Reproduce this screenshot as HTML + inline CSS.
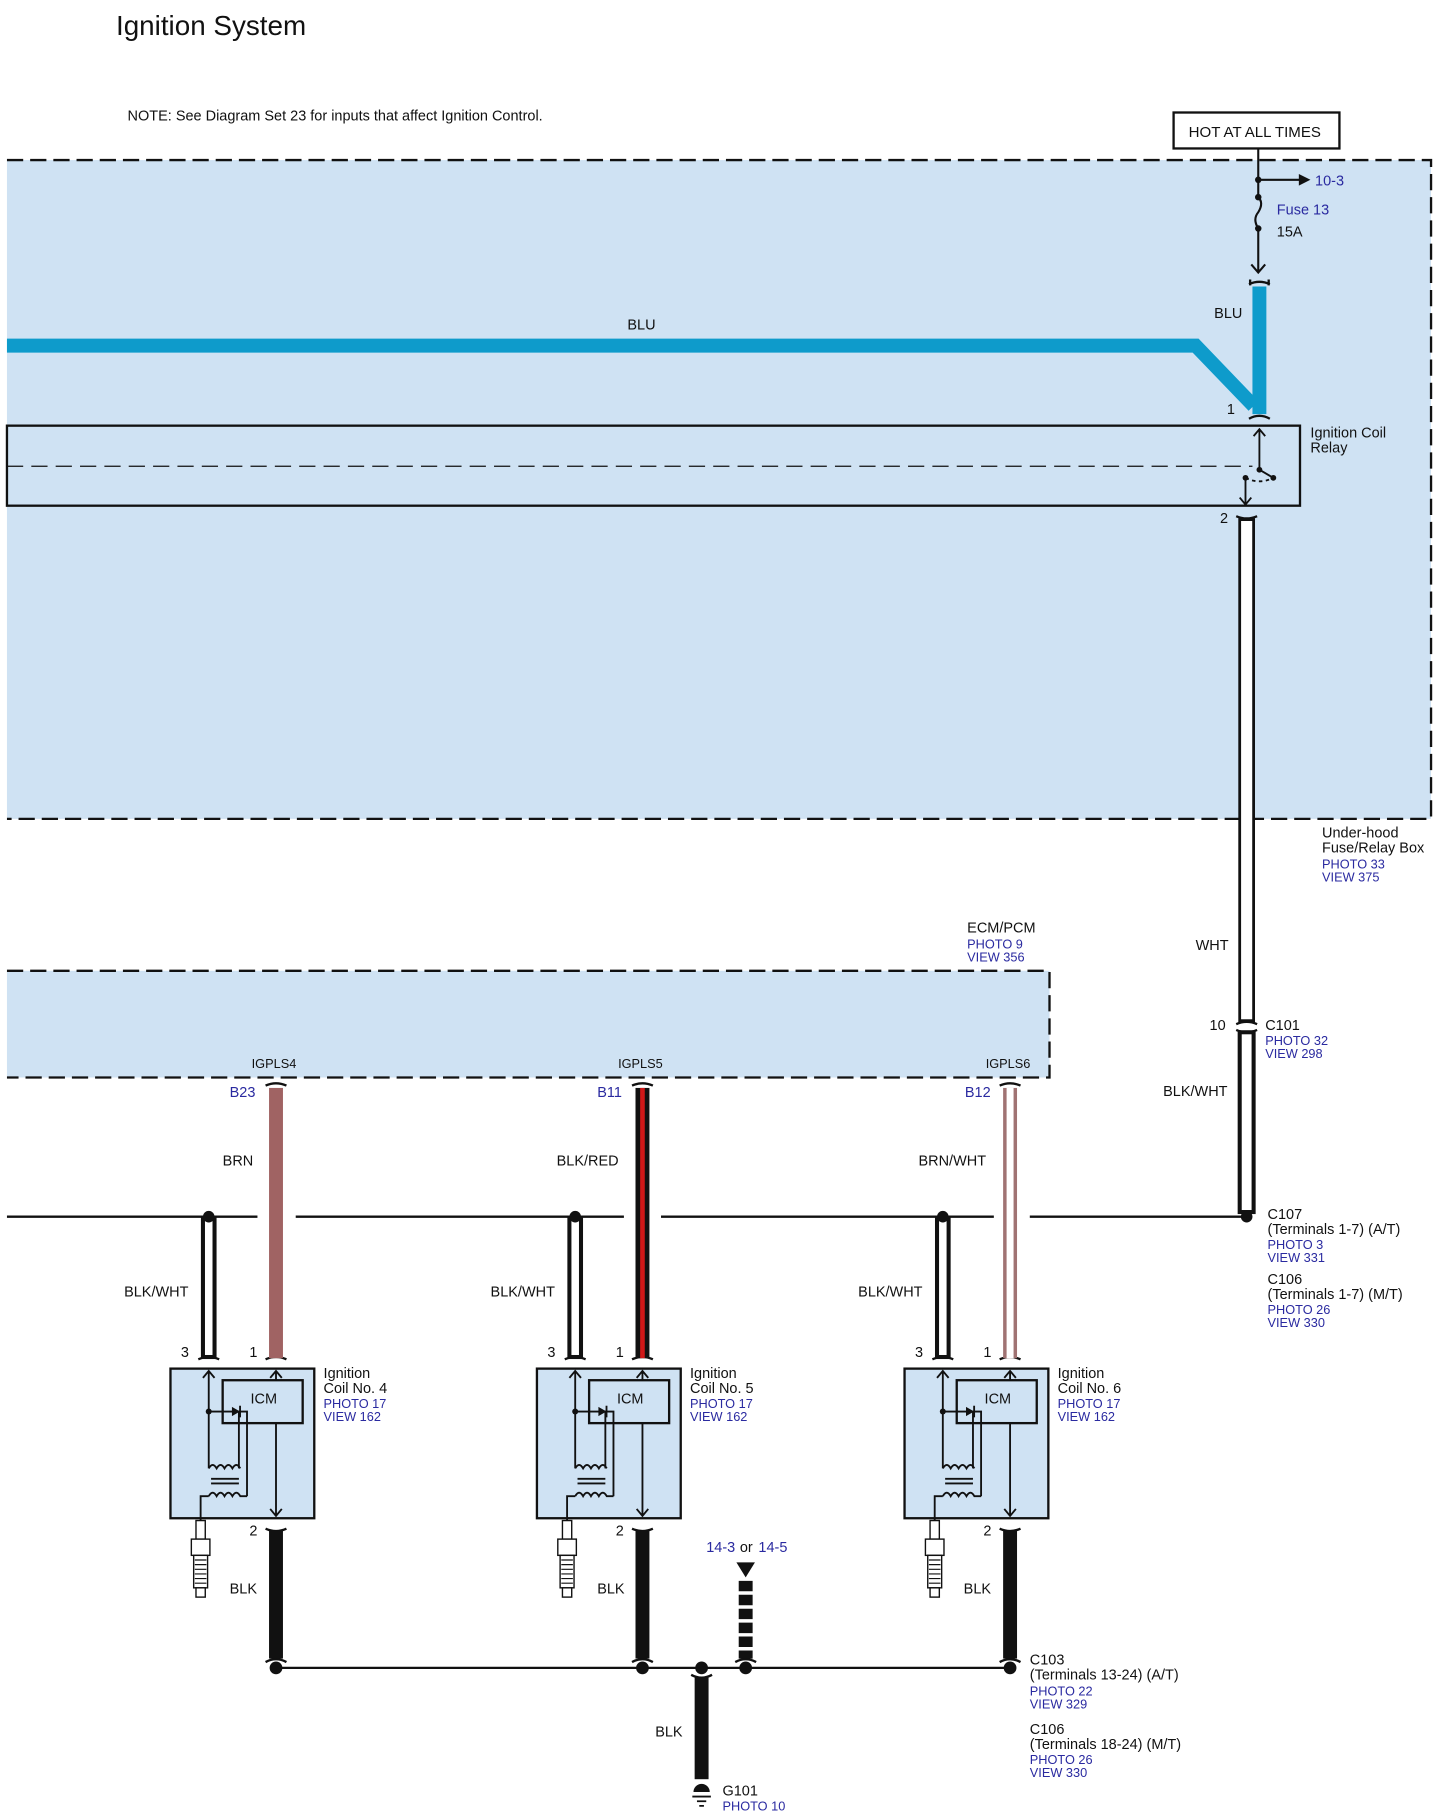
<!DOCTYPE html>
<html><head><meta charset="utf-8"><style>
html,body{margin:0;padding:0;background:#fff}
svg{display:block}
text{font-family:"Liberation Sans",sans-serif;font-size:12.5px;fill:#111}
.b{fill:#2a2aa0}
.s{font-size:11px}
</style></head><body>
<svg width="1438" height="1814" viewBox="0 0 1240 1564" preserveAspectRatio="none" xmlns="http://www.w3.org/2000/svg">
<defs>
<g id="coil">
  <rect x="0" y="0" width="124" height="129" fill="#cfe2f3" stroke="#111" stroke-width="2"/>
  <rect x="45" y="10" width="69" height="37" fill="#cfe2f3" stroke="#111" stroke-width="2"/>
  <text x="69" y="30">ICM</text>
  <g fill="none" stroke="#111" stroke-width="1.6">
    <path d="M33,86 V2 M28,8 L33,2 L38,8"/>
    <path d="M91,10 V2 M86,8 L91,2 L96,8"/>
    <path d="M91,47 V127 M86,121 L91,127 L96,121"/>
    <path d="M33,37 H66 V110"/>
    <path d="M59,37 V86"/>
    <path d="M33,86 q3.4,-6 6.8,0 q3.4,-6 6.8,0 q3.4,-6 6.8,0 q3.4,-6 6.8,0"/>
    <path d="M35,95 H59 M35,99 H59"/>
    <path d="M33,110 q3.4,-6 6.8,0 q3.4,-6 6.8,0 q3.4,-6 6.8,0 q3.4,-6 6.8,0 H66"/>
    <path d="M33,110 H26 V131"/>
  </g>
  <circle cx="33" cy="37" r="2.6" fill="#111"/>
  <path d="M53,33 L53,41 L60,37 Z" fill="#111"/><path d="M60,32 V42" stroke="#111" stroke-width="1.6"/>
  <g fill="#fff" stroke="#111" stroke-width="1.2">
    <rect x="22" y="131" width="8" height="16"/>
    <rect x="18" y="147" width="16" height="14"/>
    <rect x="20" y="161" width="12" height="28"/>
    <rect x="22" y="189" width="8" height="8"/>
  </g>
  <path d="M21,165 H31 M21,169 H31 M21,173 H31 M21,177 H31 M21,181 H31 M21,185 H31" stroke="#111" stroke-width="1"/>
</g>
</defs>

<text x="100" y="30" style="font-size:24px">Ignition System</text>
<text x="110" y="104" style="font-size:12.5px">NOTE: See Diagram Set 23 for inputs that affect Ignition Control.</text>

<rect x="6" y="138" width="1228" height="568" fill="#cfe2f3"/>
<path d="M6,138 H1234 V706 H6" fill="none" stroke="#111" stroke-width="2" stroke-dasharray="14,6"/>
<rect x="1012" y="97" width="143" height="31" fill="#fff" stroke="#111" stroke-width="2"/>
<text x="1025" y="118" style="font-size:13px">HOT AT ALL TIMES</text>
<g stroke="#111" stroke-width="1.8" fill="none">
  <path d="M1085,128 V170 M1085,197 V235 M1079,228 L1085,235 L1091,228"/>
  <path d="M1085,170 q5,5 0,13 q-5,6 0,14"/>
  <path d="M1085,155 H1122"/>
</g>
<path d="M1120,150 L1130,155 L1120,160 Z" fill="#111"/>
<circle cx="1085" cy="155" r="2.8" fill="#111"/><circle cx="1085" cy="170" r="2.8" fill="#111"/><circle cx="1085" cy="197" r="2.8" fill="#111"/>
<text x="1134" y="160" class="b">10-3</text>
<text x="1101" y="185" class="b">Fuse 13</text>
<text x="1101" y="204">15A</text>
<path d="M1077,245 q9,-4 18,0 M1078,241 v5 M1094,241 v5" stroke="#111" stroke-width="2" fill="none"/>
<path d="M6,298 H1031 L1081,350 M1086,247 V357" stroke="#0e9bcb" stroke-width="12" fill="none"/>
<text x="541" y="284">BLU</text>
<text x="1047" y="274">BLU</text>
<text x="1058" y="357">1</text>
<path d="M1077,361 q9,-5 18,0" stroke="#111" stroke-width="2" fill="none"/>
<rect x="6" y="367" width="1115" height="69" fill="#cfe2f3" stroke="#111" stroke-width="2"/>
<path d="M6,402 H1080" stroke="#111" stroke-width="1" stroke-dasharray="14,7"/>
<g stroke="#111" stroke-width="1.6" fill="none">
  <path d="M1086,405 V370 M1081,376 L1086,370 L1091,376"/>
  <path d="M1086,405 L1098,412"/>
  <path d="M1074,412 q12,6 24,0" stroke-dasharray="3,3"/>
  <path d="M1074,412 V435 M1069,429 L1074,435 L1079,429"/>
</g>
<circle cx="1086" cy="405" r="2.5" fill="#111"/><circle cx="1098" cy="412" r="2.5" fill="#111"/><circle cx="1074" cy="412" r="2.5" fill="#111"/>
<text x="1130" y="377">Ignition Coil</text><text x="1130" y="390">Relay</text>
<text x="1052" y="451">2</text>
<path d="M1066,445 q9,4 18,0" stroke="#111" stroke-width="2" fill="none"/>
<rect x="1069" y="448" width="12" height="432" fill="#fff" stroke="#111" stroke-width="2.4"/>
<text x="1140" y="722">Under-hood</text><text x="1140" y="735">Fuse/Relay Box</text>
<text x="1140" y="749" class="b s">PHOTO 33</text><text x="1140" y="760" class="b s">VIEW 375</text>
<text x="1031" y="819">WHT</text>
<text x="1043" y="888">10</text>
<path d="M1066,883 q9,-4 18,0 M1066,888 q9,4 18,0" stroke="#111" stroke-width="2" fill="none"/>
<text x="1091" y="888">C101</text>
<text x="1091" y="901" class="b s">PHOTO 32</text><text x="1091" y="912" class="b s">VIEW 298</text>
<rect x="1069" y="890" width="12" height="155" fill="#fff" stroke="#111" stroke-width="3.5"/>
<text x="1003" y="945">BLK/WHT</text>
<circle cx="1075" cy="1049" r="5" fill="#111"/>
<text x="1093" y="1051">C107</text><text x="1093" y="1064">(Terminals 1-7) (A/T)</text>
<text x="1093" y="1077" class="b s">PHOTO 3</text><text x="1093" y="1088" class="b s">VIEW 331</text>
<text x="1093" y="1107">C106</text><text x="1093" y="1120">(Terminals 1-7) (M/T)</text>
<text x="1093" y="1133" class="b s">PHOTO 26</text><text x="1093" y="1144" class="b s">VIEW 330</text>

<text x="834" y="804">ECM/PCM</text>
<text x="834" y="818" class="b s">PHOTO 9</text><text x="834" y="829" class="b s">VIEW 356</text>
<rect x="6" y="837" width="899" height="92" fill="#cfe2f3"/>
<path d="M6,837 H905 V929 H6" fill="none" stroke="#111" stroke-width="2" stroke-dasharray="14,6"/>
<text x="217" y="921" class="s">IGPLS4</text><text x="533" y="921" class="s">IGPLS5</text><text x="850" y="921" class="s">IGPLS6</text>
<text x="198" y="946" class="b">B23</text><text x="515" y="946" class="b">B11</text><text x="832" y="946" class="b">B12</text>

<path d="M6,1049 H222 M255,1049 H538 M570,1049 H857 M888,1049 H1075" stroke="#111" stroke-width="2"/>

<g fill="none" stroke-width="2">
  <path d="M229,936 q9,-4 18,0 M545,936 q9,-4 18,0 M862,936 q9,-4 18,0" stroke="#111"/>
  <path d="M229,1172 q9,-4 18,0 M545,1172 q9,-4 18,0 M862,1172 q9,-4 18,0" stroke="#111"/>
  <path d="M171,1172 q9,-4 18,0 M487,1172 q9,-4 18,0 M804,1172 q9,-4 18,0" stroke="#111"/>
</g>
<rect x="232" y="938" width="12" height="233" fill="#a06363"/>
<rect x="548" y="938" width="12" height="233" fill="#111"/><rect x="552" y="938" width="4" height="233" fill="#d01818"/>
<rect x="865" y="938" width="12" height="233" fill="#a07373"/><rect x="868" y="938" width="6" height="233" fill="#fff"/>
<text x="192" y="1005">BRN</text><text x="480" y="1005">BLK/RED</text><text x="792" y="1005">BRN/WHT</text>
<g fill="#fff" stroke="#111" stroke-width="3.5">
  <rect x="175" y="1051" width="10" height="119"/>
  <rect x="491" y="1051" width="10" height="119"/>
  <rect x="808" y="1051" width="10" height="119"/>
</g>
<circle cx="180" cy="1049" r="5" fill="#111"/><circle cx="496" cy="1049" r="5" fill="#111"/><circle cx="813" cy="1049" r="5" fill="#111"/>
<text x="107" y="1118">BLK/WHT</text><text x="423" y="1118">BLK/WHT</text><text x="740" y="1118">BLK/WHT</text>
<text x="156" y="1170">3</text><text x="215" y="1170">1</text>
<text x="472" y="1170">3</text><text x="531" y="1170">1</text>
<text x="789" y="1170">3</text><text x="848" y="1170">1</text>

<use href="#coil" x="147" y="1180"/>
<use href="#coil" x="463" y="1180"/>
<use href="#coil" x="780" y="1180"/>
<text x="279" y="1188">Ignition</text><text x="279" y="1201">Coil No. 4</text>
<text x="279" y="1214" class="b s">PHOTO 17</text><text x="279" y="1225" class="b s">VIEW 162</text>
<text x="595" y="1188">Ignition</text><text x="595" y="1201">Coil No. 5</text>
<text x="595" y="1214" class="b s">PHOTO 17</text><text x="595" y="1225" class="b s">VIEW 162</text>
<text x="912" y="1188">Ignition</text><text x="912" y="1201">Coil No. 6</text>
<text x="912" y="1214" class="b s">PHOTO 17</text><text x="912" y="1225" class="b s">VIEW 162</text>

<text x="215" y="1324">2</text><text x="531" y="1324">2</text><text x="848" y="1324">2</text>
<g fill="none" stroke="#111" stroke-width="2">
  <path d="M229,1318 q9,4 18,0 M545,1318 q9,4 18,0 M862,1318 q9,4 18,0"/>
  <path d="M229,1433 q9,-5 18,0 M545,1433 q9,-5 18,0 M862,1433 q9,-5 18,0 M634,1433 q9,-5 18,0"/>
  <path d="M596,1444 q9,5 18,0"/>
</g>
<rect x="232" y="1320" width="12" height="110" fill="#111"/>
<rect x="548" y="1320" width="12" height="110" fill="#111"/>
<rect x="865" y="1320" width="12" height="110" fill="#111"/>
<text x="198" y="1374">BLK</text><text x="515" y="1374">BLK</text><text x="831" y="1374">BLK</text>
<path d="M238,1438 H871" stroke="#111" stroke-width="2"/>
<circle cx="238" cy="1438" r="5.5" fill="#111"/><circle cx="554" cy="1438" r="5.5" fill="#111"/>
<circle cx="605" cy="1438" r="5.5" fill="#111"/><circle cx="643" cy="1438" r="5.5" fill="#111"/><circle cx="871" cy="1438" r="5.5" fill="#111"/>
<text x="609" y="1338" class="b">14-3</text><text x="638" y="1338">or</text><text x="654" y="1338" class="b">14-5</text>
<path d="M635,1347 H651 L643,1360 Z" fill="#111"/>
<path d="M643,1363 V1430" stroke="#111" stroke-width="12" stroke-dasharray="9,3"/>
<rect x="599" y="1446" width="12" height="88" fill="#111"/>
<text x="565" y="1497">BLK</text>
<path d="M598,1545 a7,7 0 0 1 14,0 Z" fill="#111"/>
<path d="M597,1549 H613 M601,1553 H609 M603,1557 H607" stroke="#111" stroke-width="1.6"/>
<text x="623" y="1548">G101</text><text x="623" y="1561" class="b s">PHOTO 10</text>
<text x="888" y="1435">C103</text><text x="888" y="1448">(Terminals 13-24) (A/T)</text>
<text x="888" y="1462" class="b s">PHOTO 22</text><text x="888" y="1473" class="b s">VIEW 329</text>
<text x="888" y="1495">C106</text><text x="888" y="1508">(Terminals 18-24) (M/T)</text>
<text x="888" y="1521" class="b s">PHOTO 26</text><text x="888" y="1532" class="b s">VIEW 330</text>
</svg>
</body></html>
